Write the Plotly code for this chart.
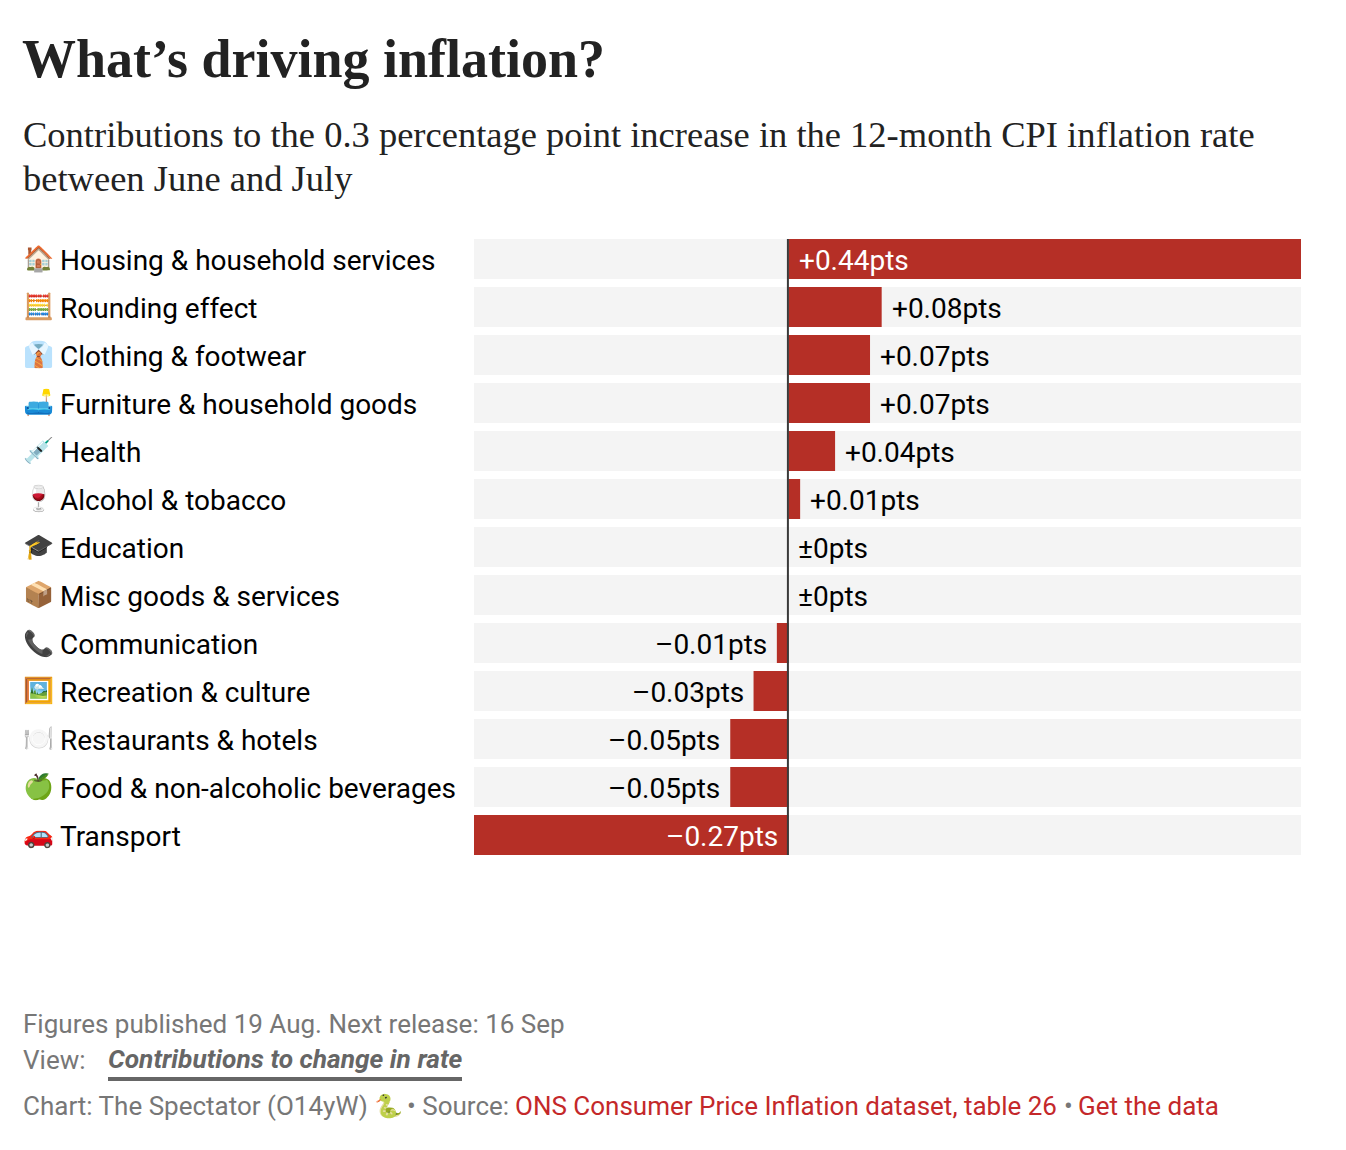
import plotly.graph_objects as go

W, H = 1346, 1150
L, R, T, B = 474, 1301, 239, 855

categories = ["Housing & household services", "Rounding effect", "Clothing & footwear",
              "Furniture & household goods", "Health", "Alcohol & tobacco", "Education",
              "Misc goods & services", "Communication", "Recreation & culture",
              "Restaurants & hotels", "Food & non-alcoholic beverages", "Transport"]
emojis = ["🏠", "🧮", "👔", "🛋️", "💉", "🍷", "🎓", "📦", "📞", "🖼️", "🍽️", "🍏", "🚗"]
values = [0.44, 0.08, 0.07, 0.07, 0.04, 0.01, 0, 0, -0.01, -0.03, -0.05, -0.05, -0.27]
value_labels = ["+0.44pts", "+0.08pts", "+0.07pts", "+0.07pts", "+0.04pts", "+0.01pts", "±0pts",
                "±0pts", "–0.01pts", "–0.03pts", "–0.05pts", "–0.05pts", "–0.27pts"]
axis_min, axis_max = -0.27, 0.44

RED = "#b52f26"
LINK = "#c4282a"
LABEL_FONT = "Roboto"
SIZE = 28


def px(x):
    return (x - L) / (R - L)


def py(y):
    return (B - y) / (B - T)


fig = go.Figure()
fig.add_bar(y=categories, x=[axis_max - axis_min] * len(categories), base=axis_min, orientation="h",
            marker=dict(color="#f4f4f4", line_width=0), hoverinfo="skip", showlegend=False)
fig.add_bar(y=categories, x=values, orientation="h", marker=dict(color=RED, line_width=0),
            showlegend=False, name="Contribution")

annotations = []
for cat, emo, v, lab in zip(categories, emojis, values, value_labels):
    annotations.append(dict(x=px(21), y=cat, xref="paper", yref="y", text=emo, showarrow=False, yshift=1,
                            xanchor="left", font=dict(family="Noto Color Emoji, " + LABEL_FONT, size=25, color="#000")))
    annotations.append(dict(x=px(58), y=cat, xref="paper", yref="y", text=cat, showarrow=False, yshift=-1,
                            xanchor="left", font=dict(family=LABEL_FONT, size=SIZE, color="#000")))
    inside = abs(v) >= 0.2
    if inside:
        anchor = "left" if v > 0 else "right"
        x, shift = 0, (9 if v > 0 else -8)
    else:
        anchor = "right" if v < 0 else "left"
        x, shift = v, (-8 if v < 0 else 8)
    annotations.append(dict(x=x, y=cat, xref="x", yref="y", text=lab, showarrow=False, xanchor=anchor, xshift=shift, yshift=-1,
                            font=dict(family=LABEL_FONT, size=SIZE, color="#fff" if inside else "#000")))

foot = dict(family=LABEL_FONT, size=26, color="#777")
link = dict(family=LABEL_FONT, size=26, color=LINK)
serif = dict(family="Liberation Serif", size=36.5, color="#222")
text_items = [
    (21, 134, "Contributions to the 0.3 percentage point increase in the 12-month CPI inflation rate", serif),
    (21, 178, "between June and July", serif),
    (21, 1024, "Figures published 19 Aug. Next release: 16 Sep", foot),
    (21, 1060, "View:", foot),
    (106, 1059, "<b><i>Contributions to change in rate</i></b>", dict(family=LABEL_FONT, size=26.3, color="#666")),
    (21, 1106, "Chart: The Spectator (O14yW)", foot),
    (372, 1106, "🐍", dict(family="Noto Color Emoji", size=23, color="#777")),
    (405, 1106, "• Source:", foot),
    (513, 1106, "ONS Consumer Price Inflation dataset, table 26", link),
    (1062, 1106, "•", foot),
    (1076, 1106, "Get the data", link),
]
for x, y, t, f in text_items:
    annotations.append(dict(x=px(x), y=py(y), xref="paper", yref="paper", text=t, showarrow=False,
                            xanchor="left", yanchor="middle", font=f, align="left"))

fig.update_layout(
    width=W, height=H, paper_bgcolor="#fff", plot_bgcolor="#fff", barmode="overlay", bargap=8 / 48,
    margin=dict(l=L, r=W - R, t=T, b=H - B, pad=0), showlegend=False,
    title=dict(text="<b>What’s driving inflation?</b>", x=22 / W, xanchor="left", xref="container",
               y=1 - 58 / H, yanchor="middle", yref="container",
               font=dict(family="Liberation Serif", size=54, color="#222")),
    xaxis=dict(range=[axis_min, axis_max], visible=False, fixedrange=True),
    yaxis=dict(autorange=False, range=[12.5 - 1 / 12, -0.5 + 1 / 12], visible=False, fixedrange=True,
               categoryorder="array", categoryarray=categories, type="category"),
    annotations=annotations,
    shapes=[
        dict(type="line", xref="x", yref="paper", x0=-0.0005, x1=-0.0005, y0=0, y1=1, line=dict(color="#3a3a3a", width=2), layer="above"),
        dict(type="line", xref="paper", yref="paper", x0=px(108), x1=px(462), y0=py(1079), y1=py(1079), line=dict(color="#666", width=4)),
    ],
)
fig.write_html("out.html", config={"displayModeBar": False},
               post_script="document.body.style.margin='0';window.dispatchEvent(new Event('resize'));")
